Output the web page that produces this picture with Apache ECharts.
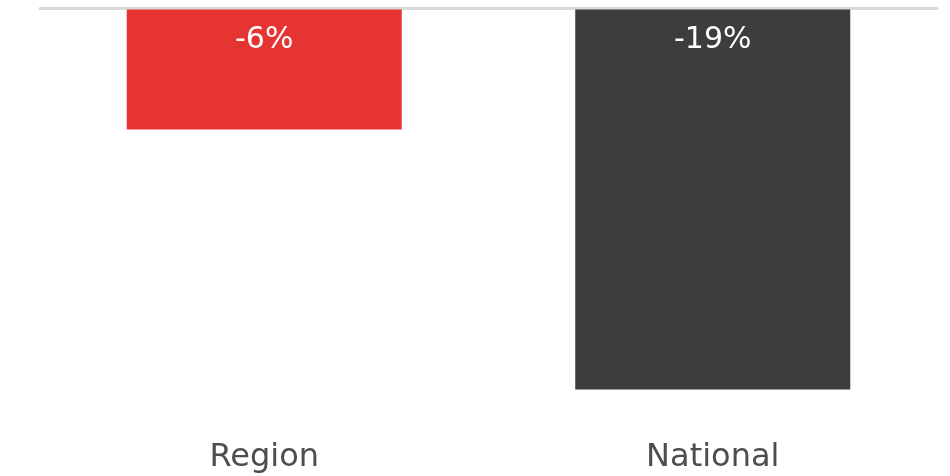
<!DOCTYPE html>
<html>
<head>
<meta charset="utf-8">
<script src="https://cdn.jsdelivr.net/npm/echarts@6/dist/echarts.min.js"></script>
<style>
  html, body { margin: 0; padding: 0; background: #ffffff; }
  #chart { width: 950px; height: 476px; }
</style>
</head>
<body>
<div id="chart"></div>
<script>
// Percentage change by area
const categories = ['Region', 'National'];
const changeValues = [-6, -19];
const barColors = ['#e63432', '#3d3d3d'];

const FONT = "'DejaVu Sans', 'Noto Sans', sans-serif";

const chart = echarts.init(document.getElementById('chart'));
chart.setOption({
  animation: false,
  grid: { left: 40, right: 13, top: 9.5, height: 380 },
  xAxis: [
    {
      // category labels below the bars
      type: 'category',
      data: categories,
      position: 'bottom',
      axisLine: { show: false },
      axisTick: { show: false },
      axisLabel: {
        margin: 52,
        fontFamily: FONT,
        fontSize: 32,
        color: '#4d4d4d'
      }
    },
    {
      // zero baseline across the top
      type: 'category',
      data: categories,
      position: 'top',
      offset: 1,
      axisLine: { show: true, lineStyle: { color: '#d9d9d9', width: 3 } },
      axisTick: { show: false },
      axisLabel: { show: false }
    }
  ],
  yAxis: {
    type: 'value',
    min: -19,
    max: 0,
    show: false
  },
  series: [{
    type: 'bar',
    barWidth: 275,
    data: changeValues.map((v, i) => ({ value: v, itemStyle: { color: barColors[i] } })),
    label: {
      show: true,
      position: 'insideTop',
      distance: 16,
      fontFamily: FONT,
      fontSize: 30,
      color: '#ffffff',
      formatter: p => p.value + '%'
    }
  }]
});
</script>
</body>
</html>
